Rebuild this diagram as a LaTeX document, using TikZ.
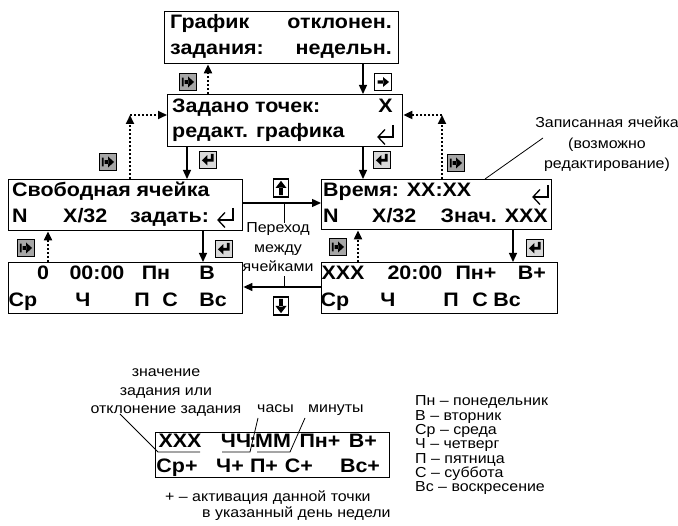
\documentclass[tikz,border=0pt]{standalone}
\usepackage{fontspec}
\setmainfont{Liberation Sans}[FakeStretch=1.1]
\usetikzlibrary{arrows.meta}

\tikzset{
  lcd/.style={draw, line width=1.4pt, inner sep=0pt, anchor=north west},
  scr/.style={font=\fontsize{19.5}{20}\selectfont\bfseries, inner sep=0pt},
  note/.style={font=\fontsize{14.5}{18}\selectfont, inner sep=0pt},
  dayname/.style={font=\fontsize{14.5}{15}\selectfont, inner sep=0pt, anchor=base west},
  go/.style={-{Triangle[length=9pt,width=8pt]}, line width=1.3pt},
  back/.style={go, dash pattern=on 2.2pt off 1.8pt, line width=2pt},
  lead/.style={line width=0.8pt},
  retl/.style={line width=1.3pt},
  key/.style={draw, line width=1.2pt, fill=white, inner sep=0pt,
    minimum width=16.5pt, minimum height=16.5pt},
  keyright/.style={key},
  keyff/.style={key, fill=black!35},
  keyenter/.style={key, fill=black!15},
  keyup/.style={key, minimum width=15pt, minimum height=18pt},
  keydown/.style={key, minimum width=15pt, minimum height=18pt},
}

% key symbols, drawn round the key's centre
\newcommand\symright{\fill (-5,-1.4) rectangle (0.5,1.4) (0,-4.5) -- (5.5,0) -- (0,4.5) -- cycle;}
\newcommand\symff{\fill (-5.5,-4) rectangle (-4,4) (-3,-1.6) rectangle (0.5,1.6)
    (0,-5) -- (5.5,0) -- (0,5) -- cycle;}
\newcommand\symenter{\fill (2.5,-5.5) rectangle (5,1.5) (-1,-1) rectangle (5,1.5)
    (-0.5,-4.5) -- (-5.5,0.25) -- (-0.5,5) -- cycle;}
\newcommand\symup{\fill (-1.8,-0.5) rectangle (1.8,6.5) (-5,0) -- (0,-6.5) -- (5,0) -- cycle;}
\newcommand\symdown{\fill (-1.8,0.5) rectangle (1.8,-6.5) (-5,0) -- (0,6.5) -- (5,0) -- cycle;}

\newcommand\retmark[2]{%
  \draw[retl] (#1,#2-12) -- (#1,#2) -- (#1-15,#2);
  \draw[retl] (#1-8,#2-7.5) -- (#1-15,#2) -- (#1-8,#2+7.5);}

\begin{document}
\begin{tikzpicture}[x=1pt, y=-1pt]
  \useasboundingbox (0,0) rectangle (678,526);

  % ── screens ──────────────────────────────────────────────────────────────
  \node[lcd, minimum width=234pt, minimum height=52pt] (graf)  at (164,11)  {};
  \node[lcd, minimum width=235pt, minimum height=52pt] (zad)   at (167,94)  {};
  \node[lcd, minimum width=234pt, minimum height=51pt] (free)  at (8,179)   {};
  \node[lcd, minimum width=230pt, minimum height=50pt] (rec)   at (321,179) {};
  \node[lcd, minimum width=234pt, minimum height=51pt] (freed) at (8,262)   {};
  \node[lcd, minimum width=236pt, minimum height=51pt] (recd)  at (321,262) {};
  \node[lcd, minimum width=234pt, minimum height=45pt, line width=1pt] (fmt) at (155,432) {};

  % ── screen texts ─────────────────────────────────────────────────────────
  \node[scr, anchor=base west] (g1) at (170,29) {График};
  \node[scr, anchor=base east] (g2) at (392,29) {отклонен.};
  \node[scr, anchor=base west] (g3) at (170,55) {задания:};
  \node[scr, anchor=base east] (g4) at (392,55) {недельн.};

  \node[scr, anchor=base west] (z1) at (172,113) {Задано точек:};
  \node[scr, anchor=base east] (z2) at (393,113) {X};
  \node[scr, anchor=base west] (z3) at (172,138) {редакт. графика};
  \retmark{393}{137}

  \node[scr, anchor=base west] (f1) at (12,197) {Свободная ячейка};
  \node[scr, anchor=base west] (f2) at (12,223) {N};
  \node[scr, anchor=base west] (f3) at (63,223) {X/32};
  \node[scr, anchor=base west] (f4) at (130,223) {задать:};
  \retmark{233}{220}

  \node[scr, anchor=base west] (r1) at (323,197) {Время: XX:XX};
  \node[scr, anchor=base west] (r2) at (323,223) {N};
  \node[scr, anchor=base west] (r3) at (372,223) {X/32};
  \node[scr, anchor=base east] (r4) at (548,223) {Знач. XXX};
  \retmark{548}{197}

  \foreach \t/\x [count=\i] in {0/43, 00:00/97, Пн/156, В/207}
    \node[scr, anchor=base] (fa\i) at (\x,280) {\t};
  \foreach \t/\x [count=\i] in {Ср/23, Ч/83, П/142, С/170, Вс/213}
    \node[scr, anchor=base] (fb\i) at (\x,307) {\t};

  \foreach \t/\x [count=\i] in {XXX/343, 20:00/415, Пн+/476, В+/532}
    \node[scr, anchor=base] (ra\i) at (\x,280) {\t};
  \foreach \t/\x [count=\i] in {Ср/335, Ч/388, П/451, С/480, Вс/507}
    \node[scr, anchor=base] (rb\i) at (\x,307) {\t};

  % ── transitions ──────────────────────────────────────────────────────────
  \draw[go]   (graf.south -| 363,0) -- (zad.north -| 363,0);
  \draw[back] (zad.north -| 208,0)  -- (graf.south -| 208,0);
  \draw[go]   (zad.south -| 187,0)  -- (free.north -| 187,0);
  \draw[go]   (zad.south -| 363,0)  -- (rec.north -| 363,0);
  \coordinate (cl) at (130,115);
  \coordinate (cr) at (442,115);
  \draw[back] (free.north -| cl) -- (cl);
  \draw[back] (cl) -- (zad.west |- cl);
  \draw[back] (rec.north -| cr) -- (cr);
  \draw[back] (cr) -- (zad.east |- cr);
  \draw[back] (freed.north -| 48,0) -- (free.south -| 48,0);
  \draw[go]   (free.south -| 203,0) -- (freed.north -| 203,0);
  \draw[back] (recd.north -| 358,0) -- (rec.south -| 358,0);
  \draw[go]   (rec.south -| 513,0)  -- (recd.north -| 513,0);
  \draw[go]   (free.east |- 0,203)  -- (rec.west |- 0,203);
  \draw[go]   (recd.west |- 0,287)  -- (freed.east |- 0,287);

  % ── keys ─────────────────────────────────────────────────────────────────
  \node[keyff]    (k1)  at (188,82)  {};
  \node[keyright] (k2)  at (383,82)  {};
  \node[keyenter] (k3)  at (208,160) {};
  \node[keyenter] (k4)  at (382,160) {};
  \node[keyff]    (k5)  at (108,162) {};
  \node[keyff]    (k6)  at (456,163) {};
  \node[keyff]    (k7)  at (26,248)  {};
  \node[keyenter] (k8)  at (224,249) {};
  \node[keyff]    (k9)  at (338,247) {};
  \node[keyenter] (k10) at (535,248) {};
  \node[keyup]    (k11) at (281,188) {};
  \node[keydown]  (k12) at (281,306) {};
  \foreach \k/\s in {k1/ff, k2/right, k3/enter, k4/enter, k5/ff, k6/ff,
      k7/ff, k8/enter, k9/ff, k10/enter, k11/up, k12/down}{
    \begin{scope}[shift={(\k)}, scale=1.1]
      \csname sym\s\endcsname
    \end{scope}
  }

  % ── notes ────────────────────────────────────────────────────────────────
  \foreach \t [count=\i] in {Переход, между, ячейками}
    \node[note, anchor=base] (per\i) at (278,{233+19.5*(\i-1)}) {\t};
  \coordinate (tu) at (284,203);
  \coordinate (td) at (284,287);
  \draw[lead] (tu) -- (per1.north -| tu);
  \draw[lead] ([yshift=-4pt]per3.south -| td) -- (td);

  \node[note, anchor=base] (zap1) at (607,128)   {Записанная ячейка};
  \node[note, anchor=base] (zap2) at (607,148.5) {(возможно};
  \node[note, anchor=base] (zap3) at (607,169)   {редактирование)};
  \coordinate (za) at (543,138);
  \draw[lead] (za) -- (rec.north -| 485,0);

  % ── format of a cell ─────────────────────────────────────────────────────
  \foreach \t/\x [count=\i] in {XXX/180, ЧЧ/236, :/253, ММ/273, Пн+/320, В+/363}
    \node[scr, anchor=base] (ua\i) at (\x,448) {\t};
  \foreach \t/\x [count=\i] in {Ср+/177, Ч+/230, П+/264, С+/299, Вс+/360}
    \node[scr, anchor=base] (ub\i) at (\x,473) {\t};

  \foreach \t [count=\i] in {значение, задания или, отклонение задания}
    \node[note, anchor=base] (val\i) at (166,{377+18.5*(\i-1)}) {\t};
  \node[note, anchor=base west] (hh) at (257,413) {часы};
  \node[note, anchor=base west] (mm) at (308,413) {минуты};

  \coordinate (v0) at (120,414);
  \coordinate (h0) at (258,418);
  \coordinate (m0) at (305,418);
  \draw[lead] (v0) -- (158,452) -- (200,452);
  \draw[lead] (h0) -- (250,452) -- (222,452);
  \draw[lead] (m0) -- (290,452) -- (257,452);

  \node[note, anchor=base west] (plus1) at (165,502) {+ – активация данной точки};
  \node[note, anchor=base west] (plus2) at (202,518) {в указанный день недели};

  % ── day names ────────────────────────────────────────────────────────────
  \foreach \t [count=\i] in {Пн – понедельник, В – вторник, Ср – среда,
      Ч – четверг, П – пятница, С – суббота, Вс – воскресение}
    \node[dayname] (day\i) at (415,{406+14.3*(\i-1)}) {\t};

\end{tikzpicture}
\end{document}
